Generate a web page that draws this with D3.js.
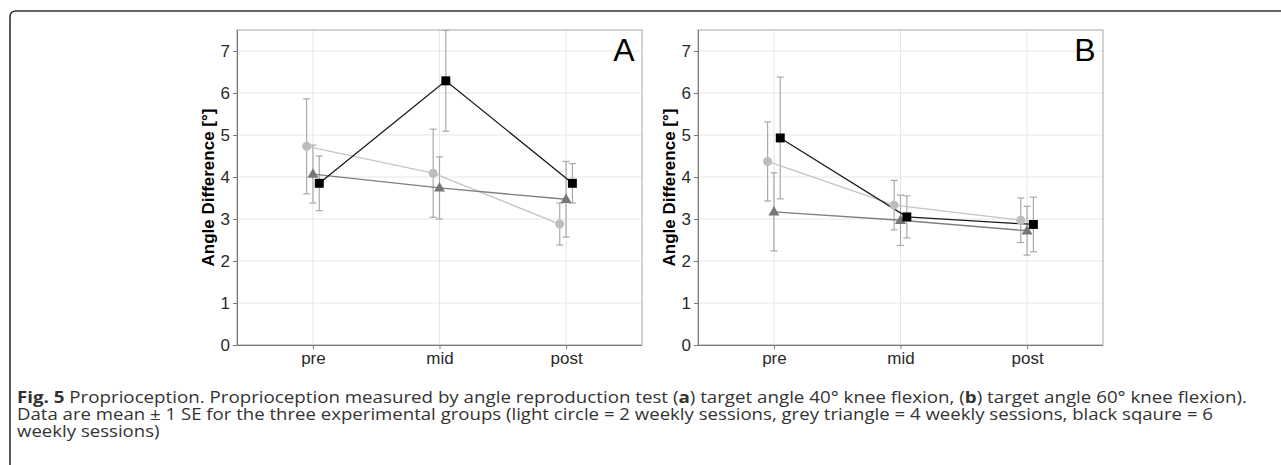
<!DOCTYPE html>
<html>
<head>
<meta charset="utf-8">
<script src="https://cdn.jsdelivr.net/npm/d3@7"></script>
<style>
  body { margin: 0; background: #fff; }
  svg { display: block; }
</style>
</head>
<body>
<svg id="fig" width="1281" height="465"></svg>
<script>
// data
var categories = ["pre", "mid", "post"]
var yTicks = [0, 1, 2, 3, 4, 5, 6, 7]
var panelLabels = ["A", "B"]
var groups = ["circle", "triangle", "square"]

// panel A (40° target) mean and SE per group
var aCircleMean = [4.73, 4.09, 2.88]
var aCircleSE = [1.13, 1.05, 0.50]
var aTriangleMean = [4.07, 3.74, 3.47]
var aTriangleSE = [0.69, 0.74, 0.90]
var aSquareMean = [3.85, 6.29, 3.85]
var aSquareSE = [0.65, 1.20, 0.47]

// panel B (60° target)
var bCircleMean = [4.37, 3.33, 2.97]
var bCircleSE = [0.94, 0.59, 0.53]
var bTriangleMean = [3.17, 2.97, 2.72]
var bTriangleSE = [0.93, 0.60, 0.58]
var bSquareMean = [4.93, 3.05, 2.87]
var bSquareSE = [1.45, 0.50, 0.65]

var panelData = [
  [aCircleMean, aCircleSE, aTriangleMean, aTriangleSE, aSquareMean, aSquareSE],
  [bCircleMean, bCircleSE, bTriangleMean, bTriangleSE, bSquareMean, bSquareSE]
]

var svg = d3.select("#fig")
var axisFont = "'Liberation Sans', Arial, sans-serif"

// outer frame (top + left with rounded corner)
svg.append("path")
  .attr("d", "M10,465 L10,17 Q10,11 16,11 L1281,11")
  .attr("fill", "none")
  .attr("stroke", "#333")
  .attr("stroke-width", 1.6)

var lineColor = {circle: "#c4c4c4", triangle: "#7f7f7f", square: "#1a1a1a"}
var pointColor = {circle: "#bdbdbd", triangle: "#777777", square: "#000000"}
var errColor = "#a9a9a9"
var dodge = {circle: -1, triangle: 0, square: 1}

var panelLeft = [237, 698]
var panelW = 405
var plotTop = 30, plotBottom = 345

function drawPanel(p) {
  var arr = panelData[p]
  var x = d3.scalePoint().domain(categories).range([panelLeft[p], panelLeft[p] + panelW]).padding(0.6)
  var y = d3.scaleLinear().domain([0, 7.5]).range([plotBottom, plotTop])
  var off = x.step() * 0.05
  var g = svg.append("g")

  // grid
  g.selectAll(".hg").data(yTicks).enter().append("line")
    .attr("x1", x.range()[0]).attr("x2", x.range()[1])
    .attr("y1", function(d){ return y(d) }).attr("y2", function(d){ return y(d) })
    .attr("stroke", "#e6e6e6").attr("stroke-width", 1)
  g.selectAll(".vg").data(categories).enter().append("line")
    .attr("x1", function(d){ return x(d) }).attr("x2", function(d){ return x(d) })
    .attr("y1", plotTop).attr("y2", plotBottom)
    .attr("stroke", "#e6e6e6").attr("stroke-width", 1)

  // panel border
  g.append("rect")
    .attr("x", x.range()[0]).attr("y", plotTop)
    .attr("width", panelW).attr("height", plotBottom - plotTop)
    .attr("fill", "none").attr("stroke", "#a6a6a6").attr("stroke-width", 1)

  // axes
  var yAxis = g.append("g")
    .attr("transform", "translate(" + x.range()[0] + ",0)")
    .call(d3.axisLeft(y).tickValues(yTicks).tickSize(4).tickPadding(3).tickFormat(d3.format("d")))
  var xAxis = g.append("g")
    .attr("transform", "translate(0," + plotBottom + ")")
    .call(d3.axisBottom(x).tickSize(4).tickPadding(3))
  ;[yAxis, xAxis].forEach(function(a) {
    a.select(".domain").attr("stroke", "#7a7a7a")
    a.selectAll(".tick line").attr("stroke", "#7a7a7a")
    a.selectAll(".tick text").attr("fill", "#2a2a2a")
      .style("font-family", axisFont).style("font-size", "17px")
  })
  xAxis.select(".domain").attr("d", "M" + x.range()[0] + ",0.5H" + x.range()[1])
  yAxis.select(".domain").attr("d", "M0.5," + plotTop + "V" + plotBottom)

  // y title
  svg.append("text")
    .attr("transform", "translate(" + (x.range()[0] - 23) + "," + ((plotTop + plotBottom) / 2) + ") rotate(-90)")
    .attr("text-anchor", "middle")
    .style("font-family", axisFont).style("font-size", "17px").style("font-weight", "bold")
    .attr("fill", "#000")
    .text("Angle Difference [°]")

  // panel label
  svg.append("text")
    .attr("x", x.range()[1] - 18).attr("y", 61)
    .attr("text-anchor", "middle")
    .style("font-family", axisFont).style("font-size", "32px")
    .attr("fill", "#000")
    .text(panelLabels[p])

  var series = groups.map(function(gr, i) {
    return {
      group: gr,
      pts: categories.map(function(c, j) {
        return {cx: x(c) + dodge[gr] * off, m: arr[i * 2][j], se: arr[i * 2 + 1][j]}
      })
    }
  })

  // error bars
  series.forEach(function(s) {
    var eb = g.selectAll(null).data(s.pts).enter().append("g")
    eb.append("line")
      .attr("x1", function(d){ return d.cx }).attr("x2", function(d){ return d.cx })
      .attr("y1", function(d){ return y(d.m + d.se) }).attr("y2", function(d){ return y(d.m - d.se) })
      .attr("stroke", errColor).attr("stroke-width", 1.2)
    ;[1, -1].forEach(function(sg) {
      eb.append("line")
        .attr("x1", function(d){ return d.cx - 3.5 }).attr("x2", function(d){ return d.cx + 3.5 })
        .attr("y1", function(d){ return y(d.m + sg * d.se) }).attr("y2", function(d){ return y(d.m + sg * d.se) })
        .attr("stroke", errColor).attr("stroke-width", 1.2)
    })
  })

  // lines
  var line = d3.line().x(function(d){ return d.cx }).y(function(d){ return y(d.m) })
  series.forEach(function(s) {
    g.append("path").datum(s.pts)
      .attr("d", line)
      .attr("fill", "none")
      .attr("stroke", lineColor[s.group])
      .attr("stroke-width", 1.3)
  })

  // points
  series.forEach(function(s) {
    var sym = s.group === "circle" ? d3.symbolCircle : s.group === "triangle" ? d3.symbolTriangle : d3.symbolSquare
    var size = s.group === "circle" ? 64 : s.group === "triangle" ? 52 : 80
    g.selectAll(null).data(s.pts).enter().append("path")
      .attr("transform", function(d){ return "translate(" + d.cx + "," + (y(d.m) + (s.group === "triangle" ? 0.5 : 0)) + ")" })
      .attr("d", d3.symbol().type(sym).size(size))
      .attr("fill", pointColor[s.group])
  })
}

drawPanel(0)
drawPanel(1)

// caption: each piece its own text, squeezed to fit the line width
var capFont = "'Open Sans', 'Noto Sans', sans-serif"
var capLines = [
  [["Fig. 5", true], [" Proprioception. Proprioception measured by angle reproduction test (", false], ["a", true],
   [") target angle 40° knee flexion, (", false], ["b", true], [") target angle 60° knee flexion).", false]],
  [["Data are mean ± 1 SE for the three experimental groups (light circle = 2 weekly sessions, grey triangle = 4 weekly sessions, black sqaure = 6", false]],
  [["weekly sessions)", false]]
]
var capEnd = [1247, 1213, null]
var capY = [403, 420, 437]
var capX = 17
var lastK = 1
capLines.forEach(function(parts, i) {
  var texts = parts.map(function(pt) {
    return svg.append("text")
      .attr("y", capY[i])
      .style("font-family", capFont).style("font-size", "15.5px")
      .style("font-weight", pt[1] ? "bold" : "normal")
      .style("white-space", "pre")
      .attr("xml:space", "preserve")
      .attr("fill", "#333")
      .text(pt[0])
  })
  var widths = texts.map(function(t){ return t.node().getComputedTextLength() })
  var total = d3.sum(widths)
  var k = capEnd[i] ? (capEnd[i] - capX) / total : lastK
  lastK = k
  var cx = capX
  texts.forEach(function(t, j) {
    t.attr("x", cx)
      .attr("textLength", widths[j] * k)
      .attr("lengthAdjust", "spacingAndGlyphs")
    cx += widths[j] * k
  })
})
</script>
</body>
</html>
